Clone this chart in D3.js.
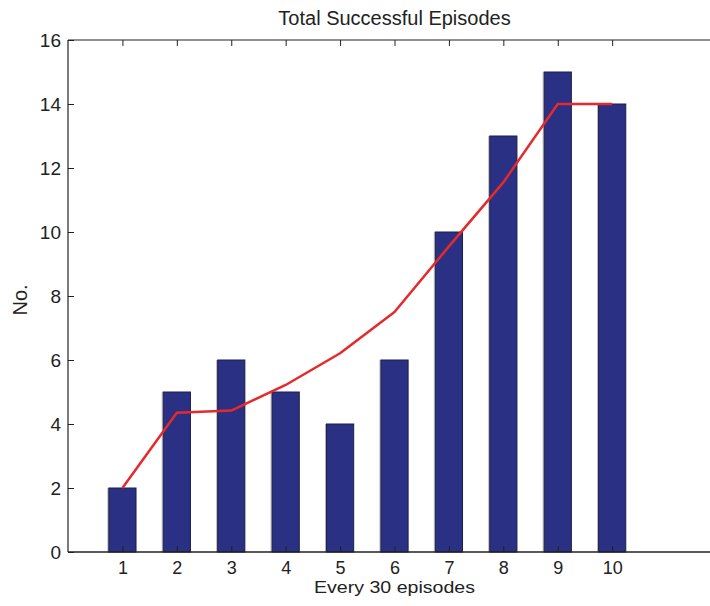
<!DOCTYPE html>
<html>
<head>
<meta charset="utf-8">
<script src="https://cdn.jsdelivr.net/npm/d3@7"></script>
<style>
  html, body { margin: 0; padding: 0; background: #fff; }
  svg { display: block; font-family: "Liberation Sans", Arial, sans-serif; }
</style>
</head>
<body>
<svg id="chart" width="710" height="606"></svg>
<script>
const categories = [1, 2, 3, 4, 5, 6, 7, 8, 9, 10];
const barValues = [2, 5, 6, 5, 4, 6, 10, 13, 15, 14];
const trendValues = [2, 4.35, 4.42, 5.22, 6.21, 7.5, 9.55, 11.55, 14, 14];
const yTicks = [0, 2, 4, 6, 8, 10, 12, 14, 16];
const title = "Total Successful Episodes";
const xLabel = "Every 30 episodes";
const yLabel = "No.";

(function () {
const svg = d3.select("#chart");
const mLeft = 68, mTop = 40, mBottom = 552, mRight = 721;
const font = "Liberation Sans, Arial, sans-serif";

const x = d3.scaleLinear().domain([0, 12]).range([mLeft, mRight]);
const y = d3.scaleLinear().domain([0, 16]).range([mBottom, mTop]);
const barW = (x(1) - x(0)) * 0.5;

// faint grey edge left of each bar
svg.append("g").selectAll("line").data(categories).join("line")
  .attr("x1", (d) => x(d) - barW / 2 - 1)
  .attr("x2", (d) => x(d) - barW / 2 - 1)
  .attr("y1", (d, i) => y(barValues[i]))
  .attr("y2", y(0))
  .attr("stroke", "#b8b8b8")
  .attr("stroke-width", 1);

// bars
svg.append("g").selectAll("rect").data(categories).join("rect")
  .attr("x", (d) => x(d) - barW / 2)
  .attr("y", (d, i) => y(barValues[i]))
  .attr("width", barW)
  .attr("height", (d, i) => y(0) - y(barValues[i]))
  .attr("fill", "#2a3083")
  .attr("stroke", "#1c1f45")
  .attr("stroke-width", 1);

// trend line
const line = d3.line().x((d, i) => x(categories[i])).y((d) => y(d));
svg.append("path").datum(trendValues)
  .attr("d", line)
  .attr("fill", "none")
  .attr("stroke", "#e6292b")
  .attr("stroke-width", 2.5)
  .attr("stroke-linejoin", "round");

// axes lines
const axisColor = "#222";
svg.append("line").attr("x1", mLeft).attr("x2", 710).attr("y1", mTop).attr("y2", mTop)
  .attr("stroke", axisColor).attr("stroke-width", 1.2);
svg.append("line").attr("x1", mLeft).attr("x2", 710).attr("y1", mBottom).attr("y2", mBottom)
  .attr("stroke", axisColor).attr("stroke-width", 1.6);
svg.append("line").attr("x1", mLeft).attr("x2", mLeft).attr("y1", mTop).attr("y2", mBottom)
  .attr("stroke", axisColor).attr("stroke-width", 1.2);

// y axis
const yAxis = d3.axisLeft(y).tickValues(yTicks).tickSize(-6).tickPadding(7);
const gy = svg.append("g").attr("transform", `translate(${mLeft},0)`).call(yAxis);
gy.select(".domain").remove();
gy.selectAll("line").attr("stroke", axisColor);
gy.selectAll("text").attr("font-size", 19).attr("fill", "#222").attr("font-family", font);

// x axis bottom
const xAxis = d3.axisBottom(x).tickValues(categories).tickSize(-6).tickPadding(9);
const gx = svg.append("g").attr("transform", `translate(0,${mBottom})`).call(xAxis);
gx.select(".domain").remove();
gx.selectAll("line").attr("stroke", axisColor);
gx.selectAll("text").attr("font-size", 18).attr("fill", "#222").attr("font-family", font);

// x ticks top
const xTop = d3.axisTop(x).tickValues(categories).tickSize(-6).tickFormat("");
const gt = svg.append("g").attr("transform", `translate(0,${mTop})`).call(xTop);
gt.select(".domain").remove();
gt.selectAll("line").attr("stroke", axisColor);

// title
svg.append("text").attr("x", x(6)).attr("y", 25).attr("text-anchor", "middle")
  .attr("font-size", 20).attr("fill", "#222").text(title);
// x label
svg.append("text").attr("x", x(6)).attr("y", 593).attr("text-anchor", "middle")
  .attr("font-size", 16).attr("textLength", 161).attr("lengthAdjust", "spacingAndGlyphs")
  .attr("fill", "#222").text(xLabel);
// y label
svg.append("text").attr("transform", `translate(27,${(mTop + mBottom) / 2 + 4}) rotate(-90)`)
  .attr("text-anchor", "middle").attr("font-size", 20).attr("fill", "#222").text(yLabel);
})();
</script>
</body>
</html>
